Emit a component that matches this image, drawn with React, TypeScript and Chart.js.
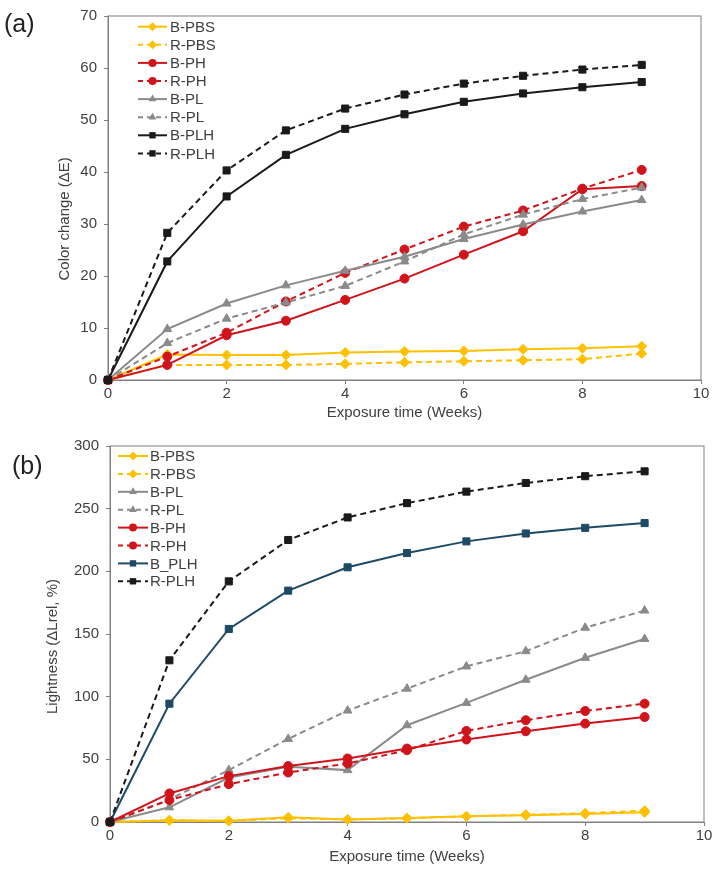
import React, { useEffect, useRef } from 'react';
import { Chart, registerables } from 'chart.js';

Chart.register(...registerables);

// ---------- data ----------
const weeks = [0, 1, 2, 3, 4, 5, 6, 7, 8, 9];

// (a) Color change (ΔE)
const aBPBS = [0, 4.9, 4.8, 4.8, 5.3, 5.5, 5.6, 5.9, 6.1, 6.5];
const aRPBS = [0, 2.9, 2.9, 2.9, 3.1, 3.4, 3.6, 3.8, 4.0, 5.1];
const aBPH = [0, 2.9, 8.6, 11.4, 15.4, 19.5, 24.1, 28.6, 36.7, 37.3];
const aRPH = [0, 4.5, 9.1, 15.1, 20.6, 25.1, 29.5, 32.6, 36.8, 40.4];
const aBPL = [0, 9.8, 14.7, 18.2, 21.0, 23.7, 27.1, 29.9, 32.4, 34.6];
const aRPL = [0, 7.1, 11.8, 14.9, 18.1, 22.8, 28.0, 31.8, 34.8, 37.0];
const aBPLH = [0, 22.8, 35.3, 43.3, 48.3, 51.1, 53.5, 55.1, 56.3, 57.3];
const aRPLH = [0, 28.3, 40.3, 48.0, 52.2, 54.9, 57.0, 58.5, 59.7, 60.6];

// (b) Lightness (ΔLrel, %)
const bBPBS = [0, 1.1, 1.0, 3.7, 2.0, 3.2, 4.5, 5.3, 6.4, 7.7];
const bRPBS = [0, 1.5, 0.8, 3.0, 2.0, 3.0, 4.5, 5.8, 7.0, 9.0];
const bBPL = [0, 11.7, 35.5, 44.0, 41.4, 77.2, 95.0, 113.5, 131.0, 146.0];
const bRPL = [0, 18.0, 41.4, 66.3, 88.9, 106.4, 124.1, 136.3, 155.0, 168.7];
const bBPH = [0, 22.8, 36.6, 44.6, 50.7, 58.6, 65.8, 72.4, 78.5, 83.8];
const bRPH = [0, 17.5, 30.2, 39.5, 46.7, 57.3, 72.7, 81.2, 88.6, 94.4];
const bBPLH = [0, 94.4, 154.0, 184.6, 203.2, 214.6, 223.9, 230.2, 234.7, 238.5];
const bRPLH = [0, 129.0, 192.0, 225.0, 243.0, 254.4, 263.6, 270.5, 275.9, 279.8];

const xTickStep = 2;
const aYMax = 70;
const aYStep = 10;
const bYMax = 300;
const bYStep = 50;

// ---------- styles ----------
const YELLOW = '#FFC000';
const RED = '#D0141C';
const GRAY = '#8A8A8A';
const BLACK = '#1A1A1A';
const BLUE = '#1E4A66';
const AXIS = '#808080';
const TEXT = '#404040';
const FONT = '"Liberation Sans", Arial, sans-serif';

type Series = { label: string; data: number[]; color: string; dashed: boolean; marker: string; radius: number };

const seriesA: Series[] = [
  { label: 'B-PBS', data: aBPBS, color: YELLOW, dashed: false, marker: 'rectRot', radius: 5 },
  { label: 'R-PBS', data: aRPBS, color: YELLOW, dashed: true, marker: 'rectRot', radius: 5 },
  { label: 'B-PH', data: aBPH, color: RED, dashed: false, marker: 'circle', radius: 4.5 },
  { label: 'R-PH', data: aRPH, color: RED, dashed: true, marker: 'circle', radius: 4.5 },
  { label: 'B-PL', data: aBPL, color: GRAY, dashed: false, marker: 'triangle', radius: 5 },
  { label: 'R-PL', data: aRPL, color: GRAY, dashed: true, marker: 'triangle', radius: 5 },
  { label: 'B-PLH', data: aBPLH, color: BLACK, dashed: false, marker: 'rect', radius: 5 },
  { label: 'R-PLH', data: aRPLH, color: BLACK, dashed: true, marker: 'rect', radius: 5 },
];

const seriesB: Series[] = [
  { label: 'B-PBS', data: bBPBS, color: YELLOW, dashed: false, marker: 'rectRot', radius: 5 },
  { label: 'R-PBS', data: bRPBS, color: YELLOW, dashed: true, marker: 'rectRot', radius: 5 },
  { label: 'B-PL', data: bBPL, color: GRAY, dashed: false, marker: 'triangle', radius: 5 },
  { label: 'R-PL', data: bRPL, color: GRAY, dashed: true, marker: 'triangle', radius: 5 },
  { label: 'B-PH', data: bBPH, color: RED, dashed: false, marker: 'circle', radius: 4.5 },
  { label: 'R-PH', data: bRPH, color: RED, dashed: true, marker: 'circle', radius: 4.5 },
  { label: 'B_PLH', data: bBPLH, color: BLUE, dashed: false, marker: 'rect', radius: 5 },
  { label: 'R-PLH', data: bRPLH, color: BLACK, dashed: true, marker: 'rect', radius: 5 },
];

const DASH = [6, 4];

function makeDatasets(series: Series[]) {
  return series.map((s, i) => ({
    label: s.label,
    data: weeks.map((w, k) => ({ x: w, y: s.data[k] })),
    borderColor: s.color,
    backgroundColor: s.color,
    borderWidth: 2,
    borderDash: s.dashed ? DASH : [],
    pointStyle: s.marker,
    pointRadius: s.radius,
    pointHoverRadius: s.radius,
    pointBorderWidth: 1,
    pointBorderColor: s.color,
    pointBackgroundColor: s.color,
    tension: 0,
    clip: false as any,
    order: series.length - i,
  }));
}

function drawMarker(ctx: CanvasRenderingContext2D, style: string, x: number, y: number, r: number, color: string) {
  ctx.save();
  ctx.fillStyle = color;
  ctx.beginPath();
  if (style === 'circle') {
    ctx.arc(x, y, r, 0, Math.PI * 2);
  } else if (style === 'rect') {
    const s = r * Math.SQRT1_2;
    ctx.rect(x - s, y - s, 2 * s, 2 * s);
  } else if (style === 'rectRot') {
    ctx.moveTo(x, y - r);
    ctx.lineTo(x + r, y);
    ctx.lineTo(x, y + r);
    ctx.lineTo(x - r, y);
    ctx.closePath();
  } else if (style === 'triangle') {
    let rad = 0;
    ctx.moveTo(x + Math.sin(rad) * r, y - Math.cos(rad) * r);
    rad += (2 * Math.PI) / 3;
    ctx.lineTo(x + Math.sin(rad) * r, y - Math.cos(rad) * r);
    rad += (2 * Math.PI) / 3;
    ctx.lineTo(x + Math.sin(rad) * r, y - Math.cos(rad) * r);
    ctx.closePath();
  }
  ctx.fill();
  ctx.restore();
}

const inlineLegend = {
  id: 'inlineLegend',
  afterDraw(chart: any, _args: any, opts: any) {
    const { x0, y0, dy, len, textX } = opts;
    const ctx: CanvasRenderingContext2D = chart.ctx;
    chart.data.datasets.forEach((ds: any, i: number) => {
      const y = y0 + dy * i;
      ctx.save();
      ctx.strokeStyle = ds.borderColor;
      ctx.lineWidth = 2;
      ctx.setLineDash(ds.borderDash && ds.borderDash.length ? [5, 4] : []);
      ctx.beginPath();
      ctx.moveTo(x0, y);
      ctx.lineTo(x0 + len, y);
      ctx.stroke();
      ctx.setLineDash([]);
      ctx.restore();
      drawMarker(ctx, ds.pointStyle, x0 + len / 2, y, ds.pointRadius - 0.5, ds.pointBackgroundColor);
      ctx.save();
      ctx.fillStyle = TEXT;
      ctx.font = `15px ${FONT}`;
      ctx.textBaseline = 'middle';
      ctx.textAlign = 'left';
      ctx.fillText(ds.label, textX, y + 1);
      ctx.restore();
    });
  },
};

const plotBorder = {
  id: 'plotBorder',
  beforeDatasetsDraw(chart: any) {
    const { ctx, chartArea: a } = chart;
    ctx.save();
    ctx.strokeStyle = AXIS;
    ctx.lineWidth = 1;
    ctx.strokeRect(a.left, a.top, a.right - a.left, a.bottom - a.top);
    ctx.restore();
  },
};

type Cfg = {
  series: Series[];
  yMax: number;
  yStep: number;
  yTitle: string;
  yAxisWidth: number;
  yTitlePad: number;
  xAxisHeight: number;
  padding: { top: number; right: number; bottom: number; left: number };
  legend: { x0: number; y0: number; dy: number; len: number; textX: number };
};

function buildConfig(c: Cfg): any {
  return {
    type: 'line',
    data: { datasets: makeDatasets(c.series) },
    plugins: [plotBorder, inlineLegend],
    options: {
      animation: false,
      responsive: false,
      maintainAspectRatio: false,
      events: [],
      layout: { padding: c.padding },
      plugins: {
        legend: { display: false },
        tooltip: { enabled: false },
        inlineLegend: c.legend,
      },
      scales: {
        x: {
          type: 'linear',
          min: 0,
          max: 10,
          afterFit: (s: any) => {
            s.height = c.xAxisHeight;
          },
          ticks: { stepSize: xTickStep, color: TEXT, font: { size: 15, family: FONT }, padding: 1, maxRotation: 0 },
          grid: { display: true, drawOnChartArea: false, drawTicks: true, tickLength: 4, color: AXIS },
          border: { display: true, color: AXIS, width: 1 },
          title: {
            display: true,
            text: 'Exposure time (Weeks)',
            color: TEXT,
            font: { size: 15, family: FONT },
            padding: { top: 0, bottom: 0 },
          },
        },
        y: {
          type: 'linear',
          min: 0,
          max: c.yMax,
          afterFit: (s: any) => {
            s.width = c.yAxisWidth;
          },
          ticks: { stepSize: c.yStep, color: TEXT, font: { size: 15, family: FONT }, padding: 7 },
          grid: { display: true, drawOnChartArea: false, drawTicks: true, tickLength: 4, color: AXIS },
          border: { display: true, color: AXIS, width: 1 },
          title: {
            display: true,
            text: c.yTitle,
            color: TEXT,
            font: { size: 15, family: FONT },
            padding: { top: c.yTitlePad, bottom: 0 },
          },
        },
      },
    },
  };
}

const NB = '\u00A0';

function LineChart({ cfg, width, height }: { cfg: Cfg; width: number; height: number }) {
  const ref = useRef<HTMLCanvasElement>(null);
  useEffect(() => {
    if (!ref.current) return;
    const chart = new Chart(ref.current, buildConfig(cfg));
    return () => chart.destroy();
  }, [cfg]);
  return <canvas ref={ref} width={width} height={height} style={{ display: 'block', width, height }} />;
}

const cfgA: Cfg = {
  series: seriesA,
  yMax: aYMax,
  yStep: aYStep,
  yTitle: 'Color change (ΔE)' + NB.repeat(10),
  yAxisWidth: 108,
  yTitlePad: 56,
  xAxisHeight: 42,
  padding: { top: 15, right: 17, bottom: 6, left: 0 },
  legend: { x0: 138, y0: 26.7, dy: 18.1, len: 29, textX: 170 },
};

const cfgB: Cfg = {
  series: seriesB,
  yMax: bYMax,
  yStep: bYStep,
  yTitle: 'Lightness (ΔLrel, %)' + NB.repeat(6),
  yAxisWidth: 110,
  yTitlePad: 44,
  xAxisHeight: 44,
  padding: { top: 15, right: 14, bottom: 11, left: 0 },
  legend: { x0: 118, y0: 26, dy: 17.9, len: 30, textX: 150 },
};

export default function App() {
  return (
    <div
      style={{
        position: 'absolute',
        left: 0,
        top: 0,
        width: 718,
        height: 877,
        background: '#ffffff',
        overflow: 'hidden',
        fontFamily: FONT,
      }}
    >
      <div style={{ position: 'absolute', left: 0, top: 0 }}>
        <LineChart cfg={cfgA} width={718} height={428} />
      </div>
      <div style={{ position: 'absolute', left: 0, top: 430 }}>
        <LineChart cfg={cfgB} width={718} height={447} />
      </div>
      <div style={{ position: 'absolute', left: 4, top: 9, fontSize: 25, lineHeight: '28px', color: '#222' }}>(a)</div>
      <div style={{ position: 'absolute', left: 12, top: 451, fontSize: 25, lineHeight: '28px', color: '#222' }}>(b)</div>
    </div>
  );
}
